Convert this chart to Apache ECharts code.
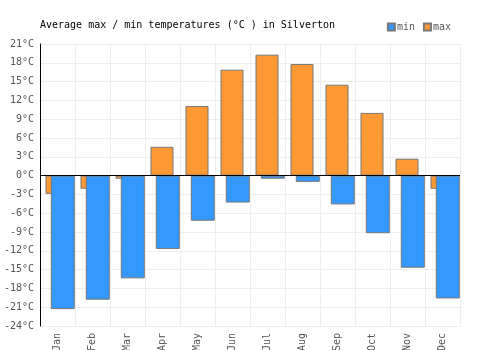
<!DOCTYPE html>
<html>
<head>
<meta charset="utf-8">
<script src="https://cdn.jsdelivr.net/npm/echarts@6/dist/echarts.min.js"></script>
<style>
  html, body { margin: 0; padding: 0; background: #fff; }
  #main { width: 500px; height: 350px; }
</style>
</head>
<body>
<div id="main"></div>
<script>
var months = ['Jan', 'Feb', 'Mar', 'Apr', 'May', 'Jun', 'Jul', 'Aug', 'Sep', 'Oct', 'Nov', 'Dec'];
var minTemps = [-21.3, -19.8, -16.4, -11.7, -7.2, -4.3, -0.5, -1.0, -4.6, -9.2, -14.7, -19.6];
var maxTemps = [-2.9, -2.1, -0.5, 4.6, 11.1, 16.9, 19.3, 17.8, 14.5, 10.0, 2.7, -2.1];

var font = 'DejaVu Sans Mono';
var myChart = echarts.init(document.getElementById('main'));

var option = {
    animation: false,
    title: {
        text: 'Average max / min temperatures (°C ) in Silverton',
        left: 35,
        top: 15,
        textStyle: { fontFamily: font, fontSize: 10, fontWeight: 'normal', color: '#000' }
    },
    legend: {
        data: ['min', 'max'],
        right: 44,
        top: 17,
        itemWidth: 7,
        itemHeight: 7,
        itemGap: 8,
        icon: 'rect',
        textStyle: { fontFamily: font, fontSize: 10, color: '#555', padding: [0, 0, 0, -3] }
    },
    grid: { left: 40, right: 40, top: 44, bottom: 24, outerBoundsMode: 'none' },
    xAxis: {
        type: 'category',
        data: months,
        axisLine: { show: false },
        axisTick: { show: false },
        splitLine: { show: true, interval: 0, lineStyle: { color: '#eee' } },
        axisLabel: { rotate: 90, interval: 0, margin: 7, fontFamily: font, fontSize: 10, color: '#555' }
    },
    yAxis: {
        type: 'value',
        min: -24,
        max: 21,
        interval: 3,
        axisLine: { show: true, lineStyle: { color: '#000' } },
        axisTick: { show: false },
        splitLine: { lineStyle: { color: '#eee' } },
        axisLabel: { formatter: '{value}°C', margin: 6, fontFamily: font, fontSize: 10, color: '#555' }
    },
    series: [
        {
            // empty spacer so the overlapping pair sits where it does in the original
            name: 'spacer',
            type: 'bar',
            barWidth: 23,
            barGap: '-77%',
            data: []
        },
        {
            name: 'max',
            type: 'bar',
            barWidth: 23,
            barGap: '-77%',
            itemStyle: { color: '#ff9933', borderColor: '#777', borderWidth: 1 },
            data: maxTemps
        },
        {
            name: 'min',
            type: 'bar',
            barWidth: 24,
            barGap: '-77%',
            itemStyle: { color: '#3399ff', borderColor: '#777', borderWidth: 1 },
            data: minTemps,
            markLine: {
                silent: true,
                symbol: 'none',
                label: { show: false },
                lineStyle: { color: '#000', type: 'solid', width: 1 },
                data: [{ yAxis: 0 }]
            }
        }
    ]
};

myChart.setOption(option);
</script>
</body>
</html>
